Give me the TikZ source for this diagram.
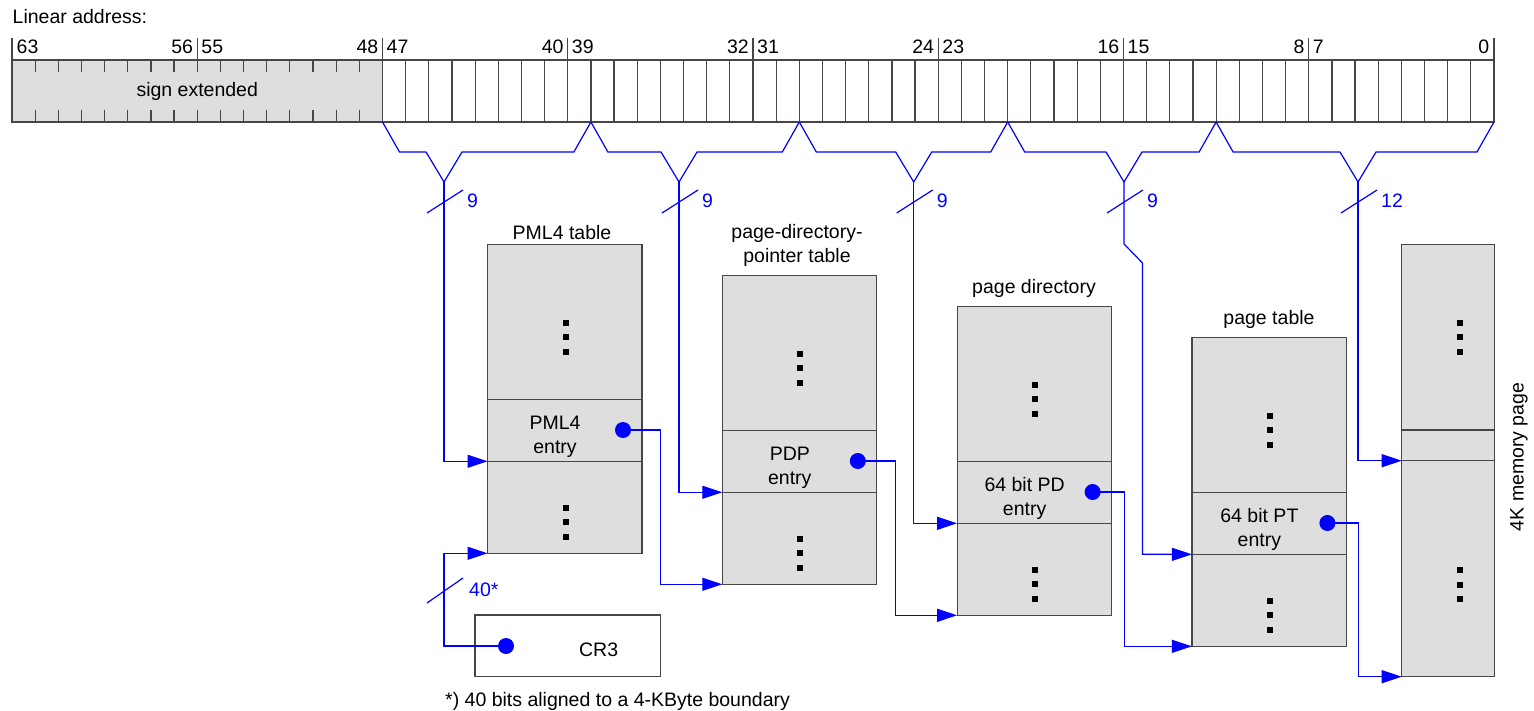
\documentclass[tikz,border=0pt]{standalone}
\usepackage{fontspec}
\setmainfont{Liberation Sans}
\usetikzlibrary{arrows.meta}
\definecolor{grigio}{RGB}{222,222,222}
\definecolor{bordo}{RGB}{70,70,70}
\tikzstyle{tabella} = [rectangle, draw=bordo, fill=grigio, line width=1.2pt,
    inner sep=0pt, outer sep=0pt, minimum width=154.5pt, anchor=north west]
\tikzstyle{voce} = [tabella, minimum height=62pt]
\tikzstyle{bus} = [draw=blue, line width=1.2pt]
\tikzstyle{freccia} = [bus, -{Triangle[length=20pt,width=13pt]}]
\tikzstyle{punto} = [circle, fill=blue, inner sep=0pt, minimum size=16pt]
\tikzstyle{testo} = [inner sep=0pt]
\tikzstyle{cifra} = [testo, text=blue, anchor=west]
\newcommand{\puntini}[2]{\foreach \k in {0,1,2} \fill (#1-3,#2-3+14.5*\k) rectangle ++(6,6);}

\begin{document}
\begin{tikzpicture}[x=1pt, y=-1pt, font=\fontsize{19.5}{23.5}\selectfont]
  \useasboundingbox (0,0) rectangle (1534,711);
  \def\bw{23.156}
  % indirizzo lineare
  \node[testo, anchor=base west] (titolo) at (12.5,23.3) {Linear address:};
  \node[tabella, minimum width=370.5pt, minimum height=62pt] (segno) at (12,60) {sign extended};
  \node[tabella, fill=white, minimum width=1111.5pt, minimum height=62pt] (bassi) at (382.5,60) {};
  \begin{scope}[draw=bordo, line width=1.2pt]
    \foreach \k in {17,...,63} \draw (12+\k*\bw,60) -- ++(0,62);
    \foreach \k in {1,...,15} {
      \draw (12+\k*\bw,60) -- ++(0,12);
      \draw (12+\k*\bw,122) -- ++(0,-12);
    }
    \foreach \k in {0,8,...,64} \draw (12+\k*\bw,38) -- (12+\k*\bw,60);
  \end{scope}
  \node[testo, anchor=base west] (b63) at (16.5,53.3) {63};
  \foreach \k in {8,16,...,56} {
    \pgfmathtruncatemacro\alto{64-\k}
    \pgfmathtruncatemacro\basso{63-\k}
    \node[testo, anchor=base east] (b\alto) at (12+\k*\bw-4,53.3) {\alto};
    \node[testo, anchor=base west] (b\basso) at (12+\k*\bw+4,53.3) {\basso};
  }
  \node[testo, anchor=base east] (b0) at (1489.5,53.3) {0};

  % gruppi di bit
  \foreach \l/\v/\r/\t [count=\n] in {16/444/25/9, 25/679/34/9, 34/913.7/43/9,
      43/1124/52/9, 52/1358/64/12} {
    \coordinate (v\n) at (\v,182);
    \draw[bus] (12+\l*\bw,122) -- ++(17,30) -- (\v-18,152) -- (v\n)
      -- (\v+18,152) -- (12+\r*\bw-17,152) -- (12+\r*\bw,122);
    \draw[bus] (\v-17,213) -- (\v+19,190);
    \node[cifra] (n\n) at (\v+23,201) {\t};
  }

  % tabelle
  \foreach \i/\nm/\etichetta in {0/pml4/PML4, 1/pdp/PDP, 2/pd/64 bit PD, 3/pt/64 bit PT} {
    \pgfmathsetmacro\x{487.5+234.8*\i}
    \pgfmathsetmacro\y{244.3+31*\i}
    \node[tabella, minimum height=309pt] (\nm) at (\x,\y) {};
    \node[voce] (\nm-e) at (\x,\y+155) {};
    \node[testo, align=center, anchor=base] (\nm-t) at (\x+67.5,\y+209) {\etichetta\\entry};
    \node[punto] (\nm-d) at (\x+135.5,\y+185.7) {};
    \puntini{\x+78}{\y+78.5}
    \puntini{\x+78}{\y+263.5}
  }
  \node[testo, anchor=base] (pml4-l) at (562,239.5) {PML4 table};
  \node[testo, anchor=base] (pdp-l1) at (797,239) {page-directory-};
  \node[testo, anchor=base] (pdp-l2) at (797,263) {pointer table};
  \node[testo, anchor=base] (pd-l) at (1034,294) {page directory};
  \node[testo, anchor=base] (pt-l) at (1269,325) {page table};

  % pagina di memoria
  \node[tabella, minimum width=92.8pt, minimum height=432.2pt] (pag) at (1401.7,244.5) {};
  \node[tabella, minimum width=92.8pt, minimum height=30.7pt] (pag-e) at (1401.7,430) {};
  \puntini{1460}{322.7}
  \puntini{1460}{570}
  \node[testo, rotate=90] (pag-l) at (1519,457) {4K memory page};

  % CR3
  \node[tabella, fill=white, minimum width=185.7pt, minimum height=61.7pt] (cr3) at (475,615) {};
  \node[testo, anchor=base] (cr3-t) at (598.6,656.7) {CR3};
  \node[punto] (cr3-d) at (506,646) {};
  \draw[bus] (427,603) -- (463,578);
  \node[cifra] (n40) at (469,590) {40*};
  \node[testo, anchor=base west] (nota) at (445,706) {*) 40 bits aligned to a 4-KByte boundary};

  % collegamenti
  \draw[freccia] (v1) |- (pml4-e.south west);
  \draw[freccia] (v2) |- (pdp-e.south west);
  \draw[freccia] (v3) |- (pd-e.south west);
  \draw[freccia] (v4) -- (1124,244) -- (1142.5,263) |- (pt-e.south west);
  \draw[freccia] (v5) |- (pag-e.south west);
  \draw[freccia] (cr3-d.center) -| (v1 |- pml4.south west) -- (pml4.south west);
  \draw[freccia] (pml4-d.center) -- ++(37.4,0) |- (pdp.south west);
  \draw[freccia] (pdp-d.center) -- ++(37.4,0) |- (pd.south west);
  \draw[freccia] (pd-d.center) -- ++(31.5,0) |- (pt.south west);
  \draw[freccia] (pt-d.center) -- ++(31,0) |- (pag.south west);
\end{tikzpicture}
\end{document}
